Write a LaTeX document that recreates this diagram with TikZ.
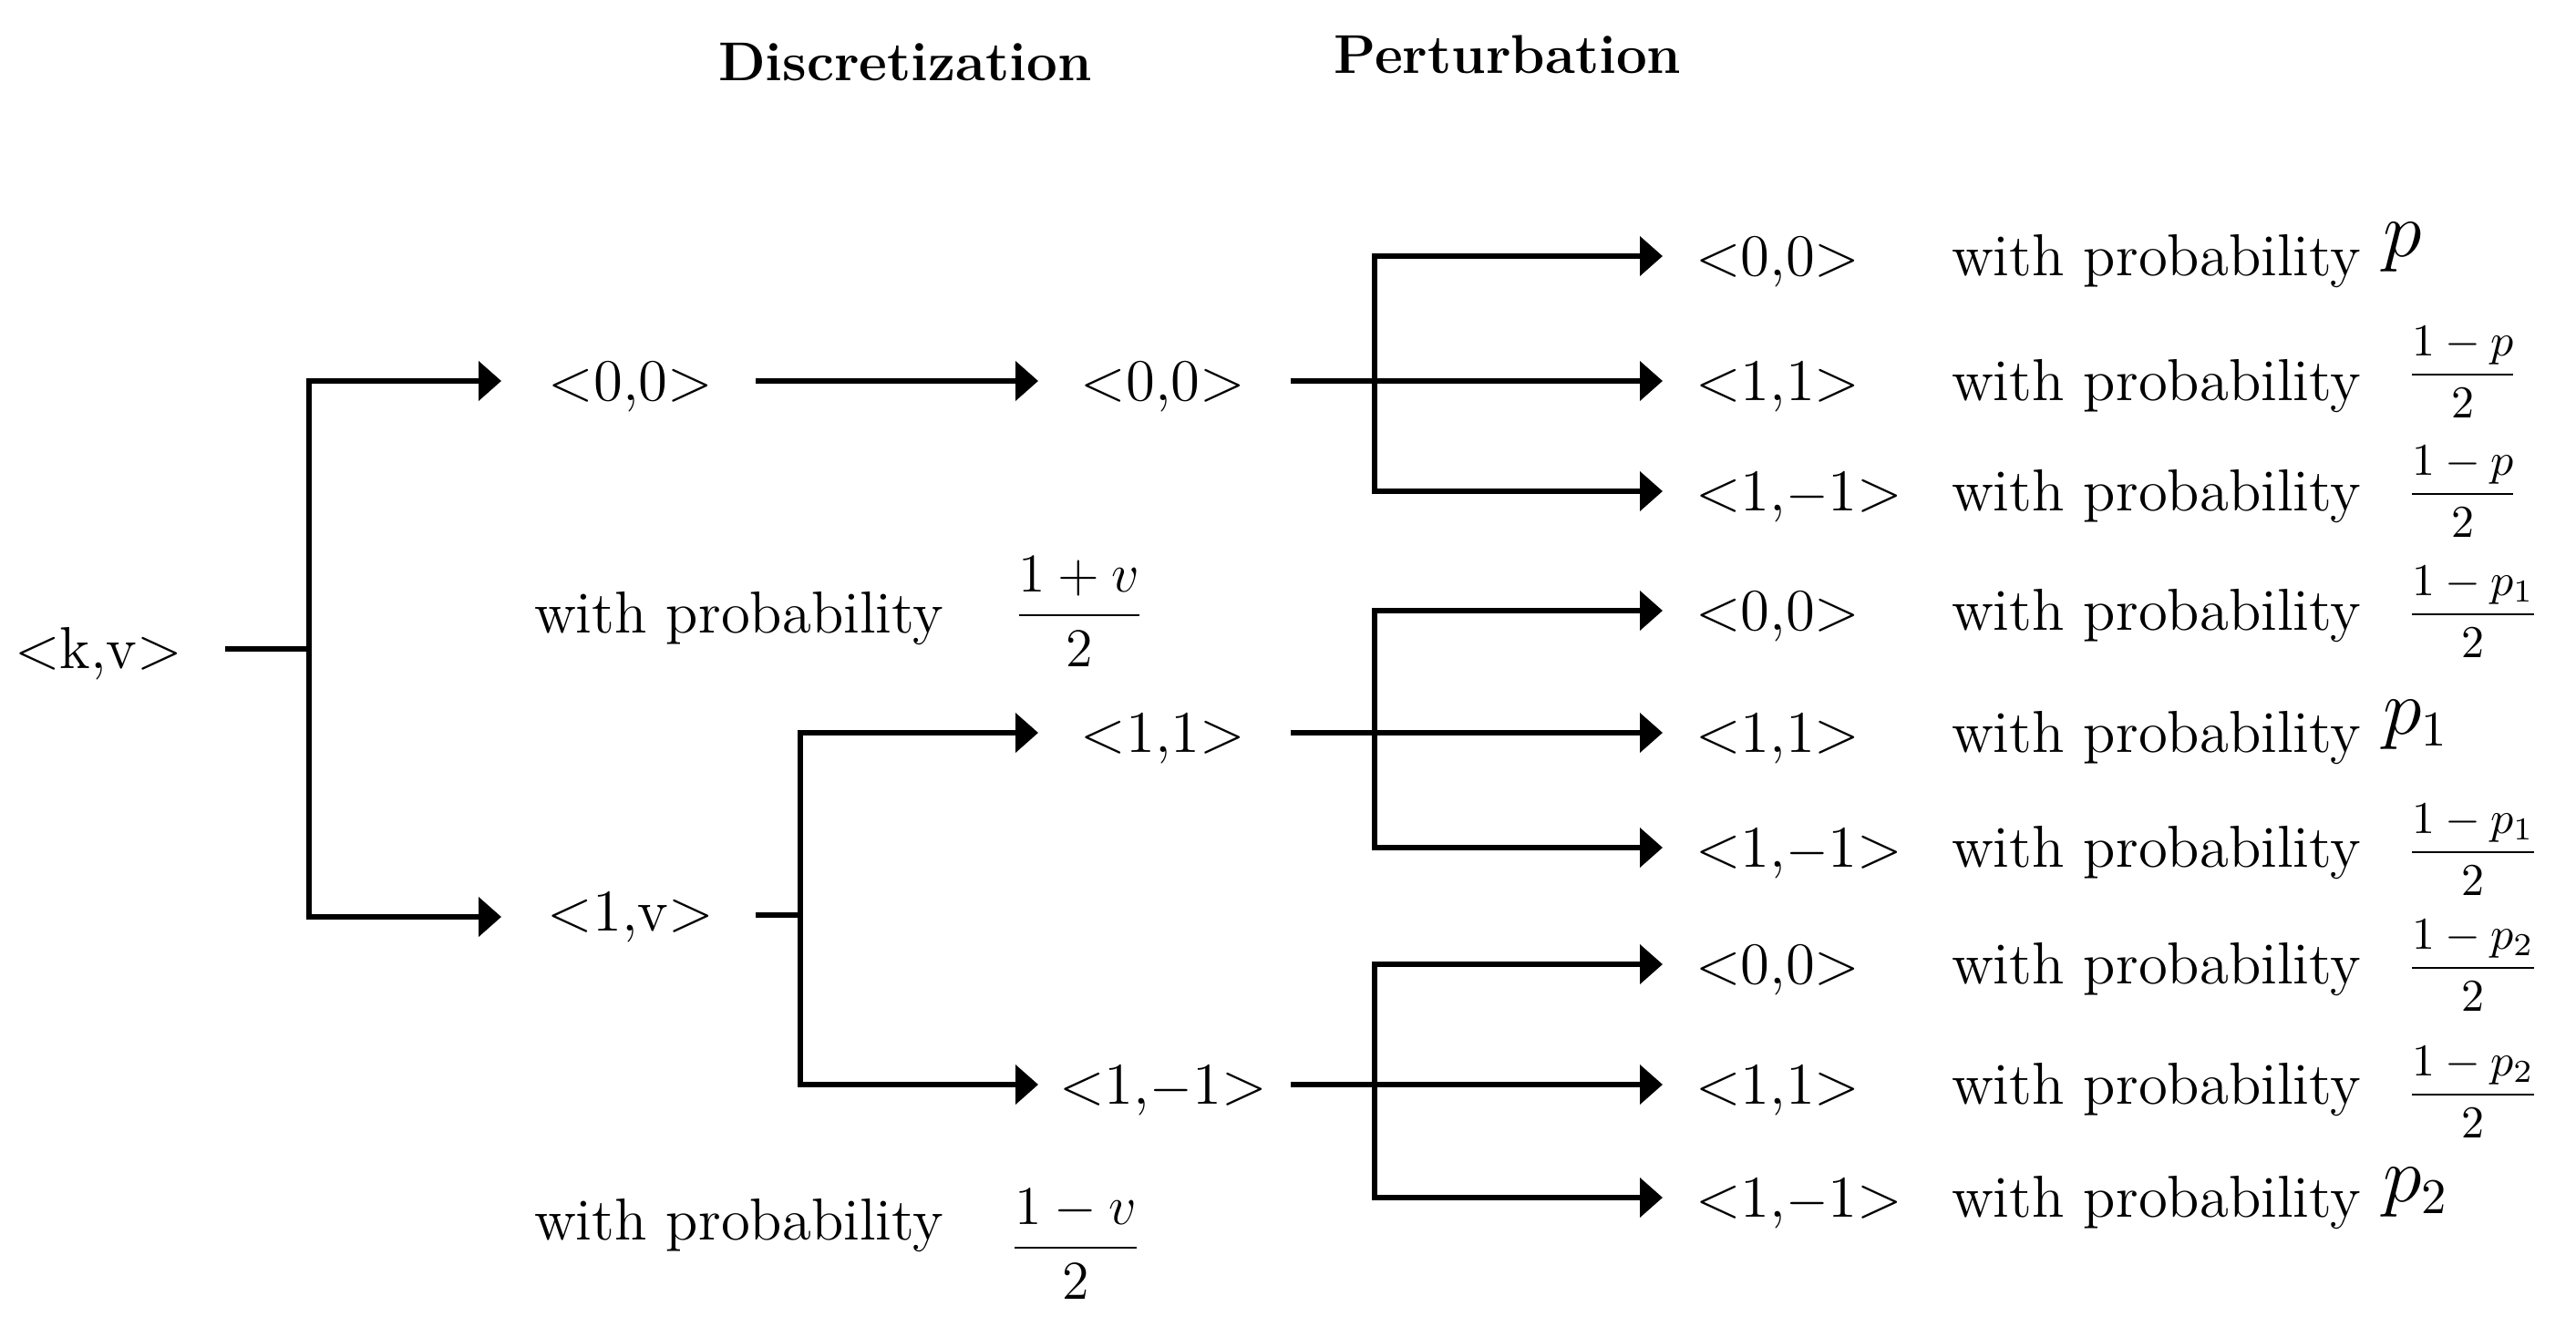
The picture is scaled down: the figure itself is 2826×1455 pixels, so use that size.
\documentclass[tikz,border=0pt]{standalone}
\usepackage{amsmath}
\usepackage{fontspec}
\usetikzlibrary{arrows.meta}
\begin{document}
\begin{tikzpicture}[x=0.2pt,y=-0.2pt,
  every node/.style={inner sep=0pt, outer sep=0pt},
  txt/.style={font=\fontsize{13}{15}\selectfont, yshift=-4.3pt},
  txtb/.style={font=\fontsize{13}{15}\selectfont},
  hdr/.style={font=\fontsize{12}{14}\selectfont\bfseries},
  ln/.style={line width=1.2pt},
  arr/.style={line width=1.2pt, -{Triangle[length=5pt,width=8.5pt]}},
  frc/.style={font=\fontsize{13}{15}\selectfont},
  sfrc/.style={font=\fontsize{10}{12}\selectfont},
  pv/.style={font=\fontsize{16}{18}\selectfont}]
\useasboundingbox (0,0) rectangle (2826,1455);

% headers
\node[hdr] (hd) at (993,68) {Discretization};
\node[hdr] (hp) at (1654,60) {Perturbation};

% root
\node[txt,anchor=base] (kv) at (108,712) {<k,v>};
\coordinate (s0) at (247,712);
\coordinate (j0) at (339,712);
\coordinate (t1a) at (550,418);
\coordinate (t1b) at (550,1006);
\draw[ln] (s0) -- (j0);
\draw[arr] (j0) |- (t1a);
\draw[arr] (j0) |- (t1b);

% level 1
\node[txt,anchor=base] (a1) at (692,418) {<0,0>};
\node[txt,anchor=base] (b1) at (692,1000) {<1,v>};
\node[txtb,anchor=base west] (w1) at (586,694) {with probability};
\node[frc] (f1) at (1184,671) {$\dfrac{1+v}{2}$};
\node[txtb,anchor=base west] (w2) at (586,1360) {with probability};
\node[frc] (f2) at (1180,1365) {$\dfrac{1-v}{2}$};

\coordinate (s1a) at (829,418);
\coordinate (t2a) at (1139,418);
\draw[arr] (s1a) -- (t2a);
\coordinate (s1b) at (829,1004);
\coordinate (j1b) at (878,1004);
\coordinate (t2b) at (1139,804);
\coordinate (t2c) at (1139,1190);
\draw[ln] (s1b) -- (j1b);
\draw[arr] (j1b) |- (t2b);
\draw[arr] (j1b) |- (t2c);

% level 2
\node[txt,anchor=base] (a2) at (1276,418) {<0,0>};
\node[txt,anchor=base] (b2) at (1276,804) {<1,1>};
\node[txt,anchor=base] (c2) at (1276,1190) {<1,$-$1>};

% level 3 connectors
\foreach \g/\t/\m/\b in {A/281/418/539, B/670/804/930, C/1058/1190/1314}{
  \coordinate (s\g) at (1416,\m);
  \coordinate (j\g) at (1508,\m);
  \coordinate (t\g1) at (1824,\t);
  \coordinate (t\g2) at (1824,\m);
  \coordinate (t\g3) at (1824,\b);
  \draw[ln] (s\g) -- (j\g);
  \draw[arr] (j\g) |- (t\g1);
  \draw[arr] (j\g) -- (t\g2);
  \draw[arr] (j\g) |- (t\g3);
}

% level 3 labels
\foreach \y/\lab/\n in {281/{<0,0>}/A1, 418/{<1,1>}/A2, 539/{<1,$-$1>}/A3,
                        670/{<0,0>}/B1, 804/{<1,1>}/B2, 930/{<1,$-$1>}/B3,
                        1058/{<0,0>}/C1, 1190/{<1,1>}/C2, 1314/{<1,$-$1>}/C3}{
  \node[txt,anchor=base west] (l\n) at (1860,\y) {\lab};
  \node[txt,anchor=base west] (w\n) at (2141,\y) {with probability};
}

% values
\node[pv,anchor=west] (vA1) at (2614,271) {$p$};
\node[sfrc,anchor=west] (vA2) at (2640,408) {$\dfrac{1-p}{2}$};
\node[sfrc,anchor=west] (vA3) at (2640,539) {$\dfrac{1-p}{2}$};
\node[sfrc,anchor=west] (vB1) at (2640,671) {$\dfrac{1-p_1}{2}$};
\node[pv,anchor=west] (vB2) at (2614,795) {$p_1$};
\node[sfrc,anchor=west] (vB3) at (2640,932) {$\dfrac{1-p_1}{2}$};
\node[sfrc,anchor=west] (vC1) at (2640,1059) {$\dfrac{1-p_2}{2}$};
\node[sfrc,anchor=west] (vC2) at (2640,1198) {$\dfrac{1-p_2}{2}$};
\node[pv,anchor=west] (vC3) at (2614,1308) {$p_2$};
\end{tikzpicture}
\end{document}
